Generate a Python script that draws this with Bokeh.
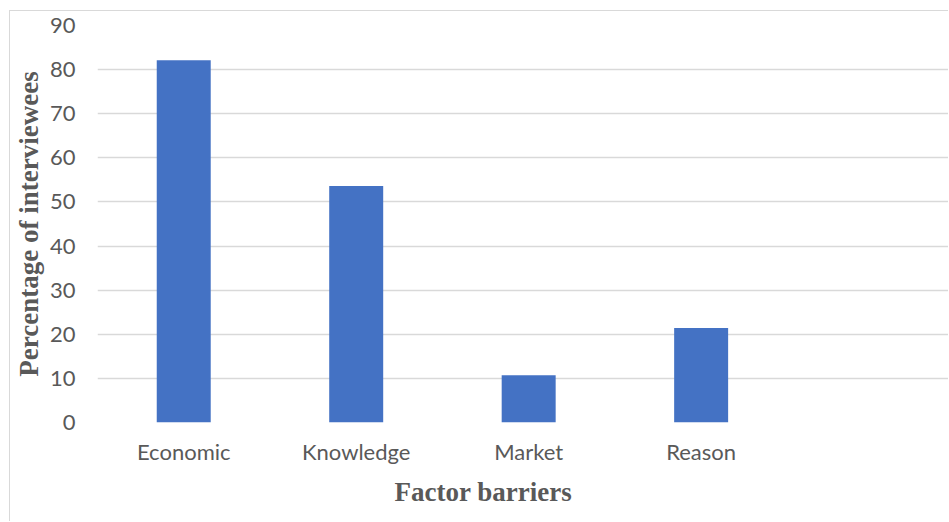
from bokeh.plotting import figure
from bokeh.models import Range1d, FixedTicker, ColumnDataSource, Title
from bokeh.embed import file_html
from bokeh.resources import INLINE

categories = ["Economic", "Knowledge", "Market", "Reason"]
values = [82.1, 53.6, 10.7, 21.4]
y_ticks = [0, 10, 20, 30, 40, 50, 60, 70, 80, 90]
x_title = "Factor barriers"
y_title = "Percentage of interviewees"

xpos = [i + 0.5 for i in range(len(categories))]
src = ColumnDataSource(dict(x=xpos, top=values))

p = figure(width=939, height=511, output_backend="svg", toolbar_location=None,
           x_range=Range1d(0, 4.94), y_range=Range1d(0, 90),
           min_border_left=87, min_border_right=0, min_border_top=14, min_border_bottom=100)
p.margin = (10, 0, 0, 9)
p.styles = {"border-left": "1px solid #d9d9d9", "border-top": "1px solid #d9d9d9"}
p.outline_line_color = None
p.background_fill_color = "white"

p.vbar(x="x", top="top", width=0.313, bottom=0, source=src, fill_color="#4472C4", line_color=None)

p.xgrid.visible = False
p.ygrid.grid_line_color = "#d9d9d9"
p.ygrid.grid_line_width = 1.5
p.yaxis.ticker = FixedTicker(ticks=y_ticks)
p.xaxis.ticker = FixedTicker(ticks=xpos)
p.xaxis.major_label_overrides = {x: c for x, c in zip(xpos, categories)}

for ax in (p.xaxis[0], p.yaxis[0]):
    ax.axis_line_color = None
    ax.major_tick_line_color = None
    ax.minor_tick_line_color = None
    ax.major_tick_out = 0
    ax.major_tick_in = 0
    ax.major_label_text_font = "Lato"
    ax.major_label_text_font_size = "22px"
    ax.major_label_text_color = "#595959"
    ax.axis_label_text_font = "Liberation Serif"
    ax.axis_label_text_font_style = "bold"
    ax.axis_label_text_font_size = "27px"
    ax.axis_label_text_color = "#595959"

p.yaxis.major_label_standoff = 22
p.xaxis.major_label_standoff = 15
p.yaxis.axis_label = y_title
p.yaxis.axis_label_standoff = 3

p.add_layout(Title(text=x_title, align="left", offset=297, standoff=14,
                   text_font="Liberation Serif", text_font_style="bold",
                   text_font_size="27px", text_color="#595959"), "below")

open("out.html", "w").write(file_html(p, INLINE))
